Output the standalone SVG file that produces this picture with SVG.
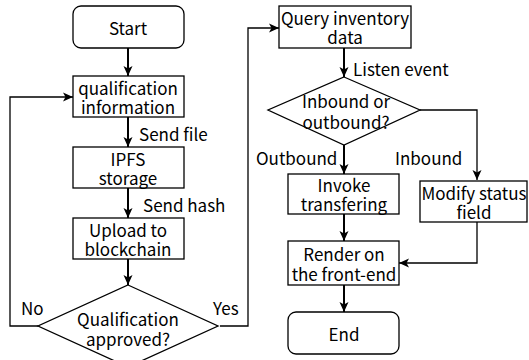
<svg xmlns="http://www.w3.org/2000/svg" width="529" height="360" viewBox="0 0 529 360">
<defs>
<marker id="ah" markerUnits="userSpaceOnUse" markerWidth="12" markerHeight="12" viewBox="0 0 12 12" refX="11" refY="6" orient="auto">
<path d="M1,1.5 L11,6 L1,10.5 L3.5,6 z" fill="#000"/>
</marker>
<style>
.b{fill:#fff;stroke:#000;stroke-width:1.3}
.t{font-family:"Noto Sans CJK SC","Source Sans Pro","DejaVu Sans",sans-serif;font-size:17px;fill:#000;text-anchor:middle;dominant-baseline:central}
.l{font-family:"Noto Sans CJK SC","Source Sans Pro","DejaVu Sans",sans-serif;font-size:17px;fill:#000;dominant-baseline:central}
.a{fill:none;stroke:#000;stroke-width:2;marker-end:url(#ah)}
.a2{fill:none;stroke:#000;stroke-width:1.3;marker-end:url(#ah)}
</style>
</defs>
<rect width="529" height="360" fill="#fff"/>
<g id="connectors">
<path class="a" d="M128,48 V76"/>
<path class="a" d="M128,117 V147"/>
<path class="a" d="M128,188 V218"/>
<path class="a" d="M128,259 V285"/>
<path class="a2" d="M38,326 H10 V97 H73"/>
<path class="a2" d="M220,326 H248 V28 H279"/>
<path class="a" d="M344,48 V77"/>
<path class="a" d="M344,145 V174"/>
<path class="a2" d="M420,110 H477 V180"/>
<path class="a" d="M344,214 V241"/>
<path class="a2" d="M477,222 V263 H399"/>
<path class="a" d="M344,285 V312"/>
<text class="l" x="139" y="133">Send file</text>
<text class="l" x="143" y="204">Send hash</text>
<text class="l" x="21" y="307">No</text>
<text class="l" x="213" y="307">Yes</text>
<text class="l" x="353" y="68">Listen event</text>
<text class="l" x="256" y="157">Outbound</text>
<text class="l" x="395" y="157">Inbound</text>
</g>
<g id="start"><rect class="b" x="73" y="6" width="111" height="42" rx="8"/><text class="t" x="128" y="27">Start</text></g>
<g id="qualification"><rect class="b" x="73" y="76" width="111" height="41"/><text class="t" x="128" y="87">qualification</text><text class="t" x="128" y="106">information</text></g>
<g id="ipfs"><rect class="b" x="73" y="147" width="111" height="41"/><text class="t" x="128" y="158">IPFS</text><text class="t" x="128" y="177">storage</text></g>
<g id="upload"><rect class="b" x="73" y="218" width="111" height="41"/><text class="t" x="128" y="229">Upload to</text><text class="t" x="128" y="248">blockchain</text></g>
<g id="approved"><polygon class="b" points="128,285 218,326 128,367 38,326"/><text class="t" x="128" y="318">Qualification</text><text class="t" x="128" y="338">approved?</text></g>
<g id="query"><rect class="b" x="279" y="6" width="132" height="42"/><text class="t" x="345" y="17">Query inventory</text><text class="t" x="345" y="36">data</text></g>
<g id="inout"><polygon class="b" points="344,77 420,110 344,145 268,110"/><text class="t" x="346" y="100">Inbound or</text><text class="t" x="346" y="121">outbound?</text></g>
<g id="invoke"><rect class="b" x="288" y="174" width="111" height="40"/><text class="t" x="344" y="184">Invoke</text><text class="t" x="344" y="203">transfering</text></g>
<g id="modify"><rect class="b" x="420" y="181" width="107" height="41"/><text class="t" x="474" y="192">Modify status</text><text class="t" x="474" y="211">field</text></g>
<g id="render"><rect class="b" x="288" y="241" width="111" height="44"/><text class="t" x="344" y="253">Render on</text><text class="t" x="344" y="273">the front-end</text></g>
<g id="end"><rect class="b" x="288" y="312" width="111" height="42" rx="8"/><text class="t" x="344" y="333">End</text></g>
</svg>
